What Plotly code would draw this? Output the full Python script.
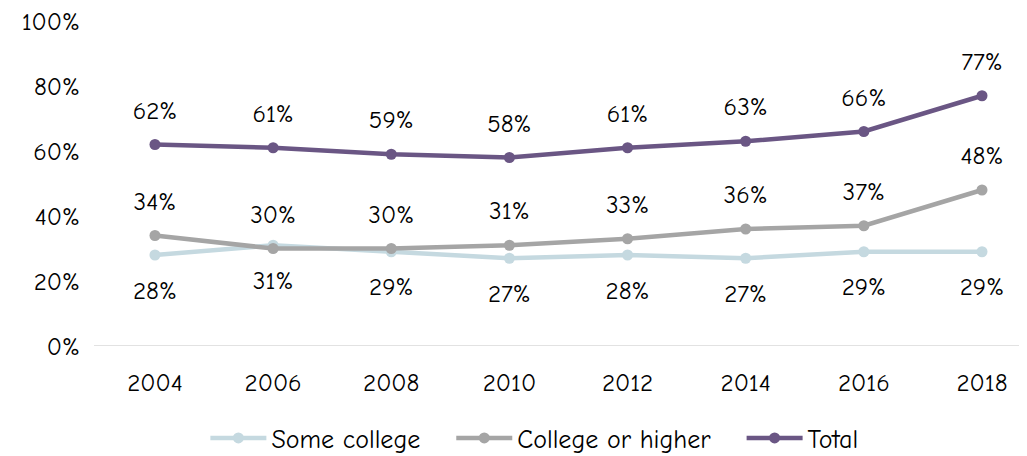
import plotly.graph_objects as go

years = ["2004", "2006", "2008", "2010", "2012", "2014", "2016", "2018"]
some_college = [28, 31, 29, 27, 28, 27, 29, 29]
college_or_higher = [34, 30, 30, 31, 33, 36, 37, 48]
total = [62, 61, 59, 58, 61, 63, 66, 77]

FONT = "Comic Sans MS, Comic Neue, Lato, sans-serif"
NB = "\u00a0"
series = [
    ("Some college", some_college, "#C5D9E0", "bottom center", 38),
    ("College or higher", college_or_higher, "#A5A5A5", "top center", 30),
    ("Total", total, "#6A5684", "top center", 30),
]

fig = go.Figure()
for name, vals, color, pos, pad in series:
    fig.add_trace(go.Scatter(
        x=years, y=vals, name=name + (NB * 3 if name != "Total" else ""),
        mode="lines+markers",
        line=dict(color=color, width=4.5),
        marker=dict(color=color, size=11),
    ))
for name, vals, color, pos, pad in series:
    fig.add_trace(go.Scatter(
        x=years, y=vals, mode="markers+text", showlegend=False, hoverinfo="skip",
        text=[f"{v}%" for v in vals], textposition=pos,
        textfont=dict(family=FONT, size=25, color="#000000"),
        marker=dict(size=pad, color="rgba(0,0,0,0)"),
    ))

fig.update_layout(
    width=1019, height=456,
    margin=dict(l=86, r=0, t=13, b=118),
    paper_bgcolor="white", plot_bgcolor="white",
    font=dict(family=FONT, size=25, color="#000000"),
    showlegend=True,
    legend=dict(orientation="h", x=0.472, xanchor="center", y=-0.283, yanchor="middle",
                font=dict(size=26), tracegroupgap=0, itemwidth=56),
    xaxis=dict(type="category", range=[-0.516, 7.381], showgrid=False,
               showline=False, ticks="outside", ticklen=14, tickcolor="white",
               tickfont=dict(size=25)),
    yaxis=dict(range=[0, 100], dtick=20, ticksuffix="%", showgrid=False,
               zeroline=False, showline=False, ticks="outside", ticklen=8,
               tickcolor="white", tickfont=dict(size=25),
               ticklabeloverflow="allow"),
    shapes=[dict(type="line", xref="paper", yref="y", x0=0, x1=1, y0=0, y1=0,
                 line=dict(color="#D9D9D9", width=1.5))],
)

fig.write_html("out.html")
